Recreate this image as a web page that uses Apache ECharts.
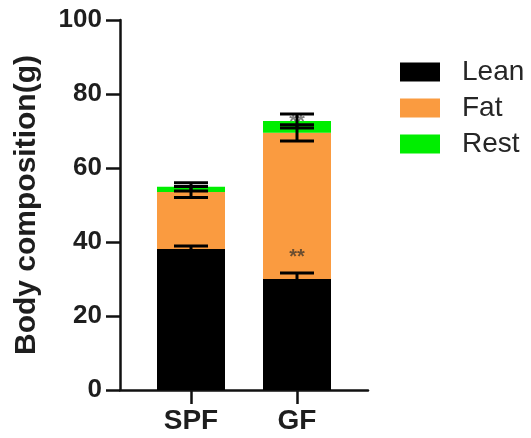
<!DOCTYPE html>
<html>
<head>
<meta charset="utf-8">
<script src="https://cdn.jsdelivr.net/npm/echarts@6/dist/echarts.min.js"></script>
<style>
html,body{margin:0;padding:0;background:#fff;}
#chart{width:531px;height:438px;}
</style>
</head>
<body>
<div id="chart"></div>
<script>
var categories = ['SPF', 'GF'];
var leanValues = [38.1, 30.0];
var fatValues = [15.4, 39.5];
var restValues = [1.4, 3.2];
var leanErr = [0.8, 1.6];
var fatErr = [1.5, 2.2];
var restErr = [1.1, 1.9];
var leanSig = ['', '**'];
var restSig = ['', '**'];
var yTicks = [0, 20, 40, 60, 80, 100];

var FONT = '"Liberation Sans", Arial, sans-serif';
var TXT = '#1e1e1e';

// error bar data: [categoryIndex, segmentTop, err]
var errData = [];
categories.forEach(function (c, i) {
  var t1 = leanValues[i];
  var t2 = t1 + fatValues[i];
  var t3 = t2 + restValues[i];
  errData.push([i, t1, leanErr[i]]);
  errData.push([i, t2, fatErr[i]]);
  errData.push([i, t3, restErr[i]]);
});

var chart = echarts.init(document.getElementById('chart'));
chart.setOption({
  animation: false,
  backgroundColor: '#fff',
  textStyle: { fontFamily: FONT },
  legend: {
    orient: 'vertical',
    left: 400,
    top: 58,
    padding: 0,
    itemWidth: 40,
    itemHeight: 19,
    itemGap: 8,
    icon: 'rect',
    data: ['Lean', 'Fat', 'Rest'],
    textStyle: { fontFamily: FONT, fontSize: 28, color: '#262626', padding: [0, 0, 0, 17] }
  },
  grid: [
    { left: 138, right: 181, top: 20, bottom: 48 },
    { left: 120, right: 163, top: 20, bottom: 48 }
  ],
  xAxis: [
    {
      type: 'category', gridIndex: 0, data: categories,
      axisLine: { show: false },
      axisTick: { show: true, alignWithLabel: true, length: 14, lineStyle: { color: '#111', width: 2.5 } },
      axisLabel: { fontFamily: FONT, fontSize: 28, fontWeight: 'bold', color: TXT, margin: 17 }
    },
    {
      type: 'value', gridIndex: 1, min: 0, max: 1,
      axisLine: { show: true, lineStyle: { color: '#111', width: 2.5 } },
      axisTick: { show: false }, axisLabel: { show: false }, splitLine: { show: false }
    }
  ],
  yAxis: [
    {
      type: 'value', gridIndex: 0, min: yTicks[0], max: yTicks[yTicks.length - 1], interval: 20,
      offset: 18,
      name: 'Body composition(g)',
      nameLocation: 'middle',
      nameGap: 78,
      nameTextStyle: { fontFamily: FONT, fontSize: 30, fontWeight: 'bold', color: TXT },
      axisLine: { show: true, lineStyle: { color: '#111', width: 2.5 } },
      axisTick: { show: true, length: 14, lineStyle: { color: '#111', width: 2.5 } },
      axisLabel: { fontFamily: FONT, fontSize: 26, fontWeight: 'bold', color: TXT, margin: 18 },
      splitLine: { show: false }
    },
    { type: 'value', gridIndex: 1, min: 0, max: 1, show: false }
  ],
  series: [
    {
      name: 'Lean', type: 'bar', stack: 'total', barWidth: 68,
      xAxisIndex: 0, yAxisIndex: 0,
      itemStyle: { color: '#000000' },
      data: leanValues,
      label: {
        show: true, position: 'top', distance: 12,
        formatter: function (p) { return leanSig[p.dataIndex]; },
        fontFamily: FONT, fontSize: 20, fontWeight: 'bold', color: '#6b4e30'
      }
    },
    {
      name: 'Fat', type: 'bar', stack: 'total', barWidth: 68,
      xAxisIndex: 0, yAxisIndex: 0,
      itemStyle: { color: '#FA9B40' },
      data: fatValues
    },
    {
      name: 'Rest', type: 'bar', stack: 'total', barWidth: 68,
      xAxisIndex: 0, yAxisIndex: 0,
      itemStyle: { color: '#00EE00' },
      data: restValues,
      label: {
        show: true, position: 'top', distance: -11,
        formatter: function (p) { return restSig[p.dataIndex]; },
        fontFamily: FONT, fontSize: 20, fontWeight: 'bold', color: '#808080'
      }
    },
    {
      type: 'custom', xAxisIndex: 0, yAxisIndex: 0, z: 5,
      data: errData,
      renderItem: function (params, api) {
        var x = api.value(0), y = api.value(1), e = api.value(2);
        var hi = api.coord([x, y + e]);
        var lo = api.coord([x, y - e]);
        var hw = 17;
        var st = { stroke: '#000', lineWidth: 3, fill: null };
        return {
          type: 'group',
          children: [
            { type: 'line', shape: { x1: hi[0], y1: hi[1], x2: lo[0], y2: lo[1] }, style: st },
            { type: 'line', shape: { x1: hi[0] - hw, y1: hi[1], x2: hi[0] + hw, y2: hi[1] }, style: st },
            { type: 'line', shape: { x1: lo[0] - hw, y1: lo[1], x2: lo[0] + hw, y2: lo[1] }, style: st }
          ]
        };
      }
    }
  ]
});
</script>
</body>
</html>
